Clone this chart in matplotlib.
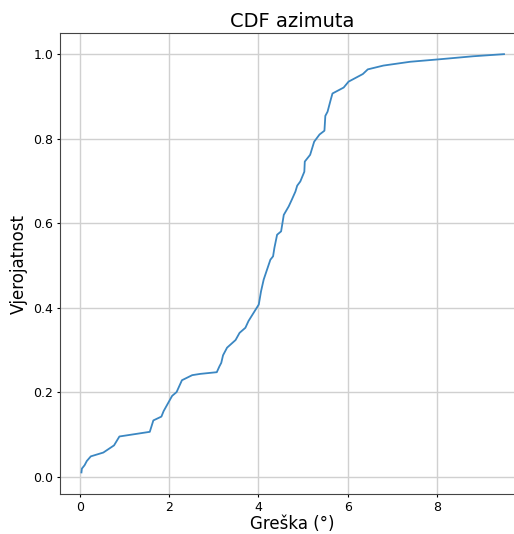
import numpy as np
import matplotlib
matplotlib.use('Agg')
import matplotlib.pyplot as plt

# error values (deg) and cumulative probability
greska = [0.04, 0.05, 0.11, 0.16, 0.25, 0.53, 0.77, 0.89, 1.57, 1.65, 1.83, 1.88,
          2.07, 2.17, 2.29, 2.52, 2.70, 3.07, 3.13, 3.17, 3.21, 3.30, 3.49, 3.58,
          3.71, 3.78, 4.01, 4.06, 4.12, 4.19, 4.27, 4.33, 4.36, 4.42, 4.51, 4.57,
          4.68, 4.75, 4.83, 4.87, 4.94, 5.03, 5.04, 5.16, 5.25, 5.37, 5.48, 5.50,
          5.55, 5.62, 5.66, 5.91, 6.02, 6.34, 6.45, 6.80, 7.40, 8.07, 8.81, 9.50]
vjerojatnost = [0.011, 0.02, 0.028, 0.038, 0.049, 0.058, 0.075, 0.096, 0.107, 0.134, 0.143, 0.156,
                0.192, 0.201, 0.229, 0.241, 0.244, 0.248, 0.262, 0.270, 0.288, 0.306, 0.324, 0.341,
                0.353, 0.369, 0.408, 0.439, 0.467, 0.489, 0.514, 0.522, 0.542, 0.573, 0.581, 0.620,
                0.640, 0.656, 0.675, 0.689, 0.699, 0.722, 0.746, 0.762, 0.793, 0.810, 0.819, 0.854,
                0.864, 0.892, 0.907, 0.921, 0.935, 0.953, 0.964, 0.973, 0.982, 0.988, 0.995, 1.0]

fig = plt.figure(figsize=(5.14, 5.34), dpi=100)
ax = fig.add_axes([60 / 514, 40 / 534, 465 / 514, 461 / 534])

ax.plot(greska, vjerojatnost, color='#3b87c2', lw=1.3)
ax.set_xlim(-0.44, 9.97)
ax.set_ylim(-0.04, 1.05)
ax.set_xticks([0, 2, 4, 6, 8])
ax.set_yticks([0.0, 0.2, 0.4, 0.6, 0.8, 1.0])
ax.grid(True, color='#d0d0d0', lw=1)
ax.tick_params(labelsize=9, length=2.5, pad=2.5)
for s in ax.spines.values():
    s.set_color('#444444')

ax.set_title('CDF azimuta', fontsize=14, pad=4)
ax.set_xlabel('Greška (°)', fontsize=12, labelpad=1)
ax.set_ylabel('Vjerojatnost', fontsize=12, labelpad=4)

fig.savefig('out.png', dpi=100)
